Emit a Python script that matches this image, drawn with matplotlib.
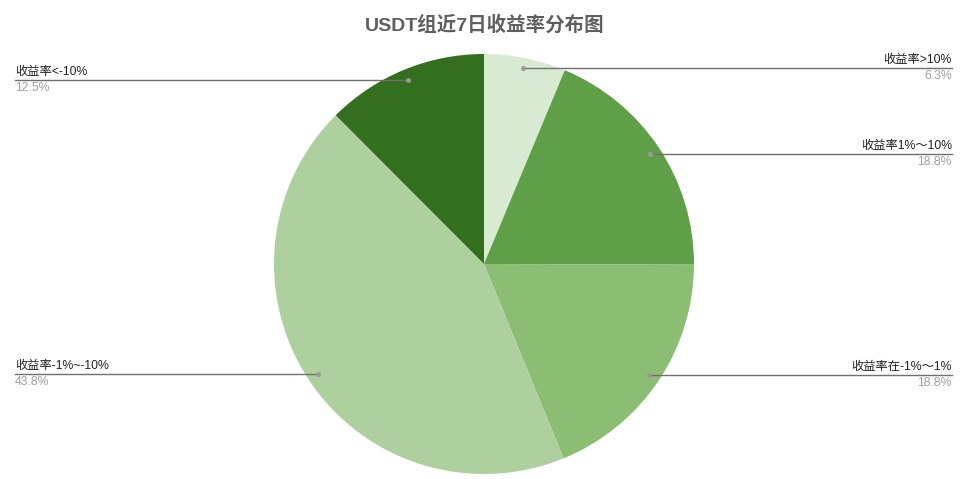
import numpy as np
import matplotlib
matplotlib.use("Agg")
import matplotlib.pyplot as plt

plt.rcParams['font.family'] = ['Liberation Sans', 'Noto Sans CJK SC', 'DejaVu Sans']

# 数据
labels = ["收益率>10%", "收益率1%～10%", "收益率在-1%～1%", "收益率-1%~-10%", "收益率<-10%"]
pcts = [6.3, 18.8, 18.8, 43.8, 12.5]
colors = ["#d9ead3", "#5f9f47", "#8bbd72", "#aed09e", "#346e1f"]
title = "USDT组近7日收益率分布图"

W, H = 970, 479
cx, cy, R = 484, H - 264, 210

fig = plt.figure(figsize=(W / 100, H / 100), dpi=100)
ax = fig.add_axes([0, 0, 1, 1])

wedges, _ = ax.pie(pcts, colors=colors, startangle=90, counterclock=False,
                   center=(cx, cy), radius=R, frame=True,
                   wedgeprops=dict(linewidth=0))
ax.set_xlim(0, W)
ax.set_ylim(0, H)
ax.set_aspect('equal')
ax.axis('off')

for w, lab, p in zip(wedges, labels, pcts):
    ang = np.deg2rad((w.theta1 + w.theta2) / 2)
    px = cx + 0.95 * R * np.cos(ang)
    py = cy + 0.95 * R * np.sin(ang)
    if np.cos(ang) >= 0:
        xe, ha = 952, 'right'
    else:
        xe, ha = 15, 'left'
    ax.plot([px, xe], [py, py], color='#707070', lw=1, zorder=3)
    ax.plot(px, py, 'o', color='#9a9a9a', ms=2.5, zorder=4)
    ax.text(xe, py + 2, lab, ha=ha, va='bottom', fontsize=8.8, color='#222222')
    ax.text(xe, py - 2, f"{p}%", ha=ha, va='top', fontsize=8.8, color='#a0a0a0')

fig.text(0.5, 1 - 25 / H, title, ha='center', va='center', fontsize=14,
         fontweight='bold', color='#5f5f5f')

fig.savefig("out.png", dpi=100)
